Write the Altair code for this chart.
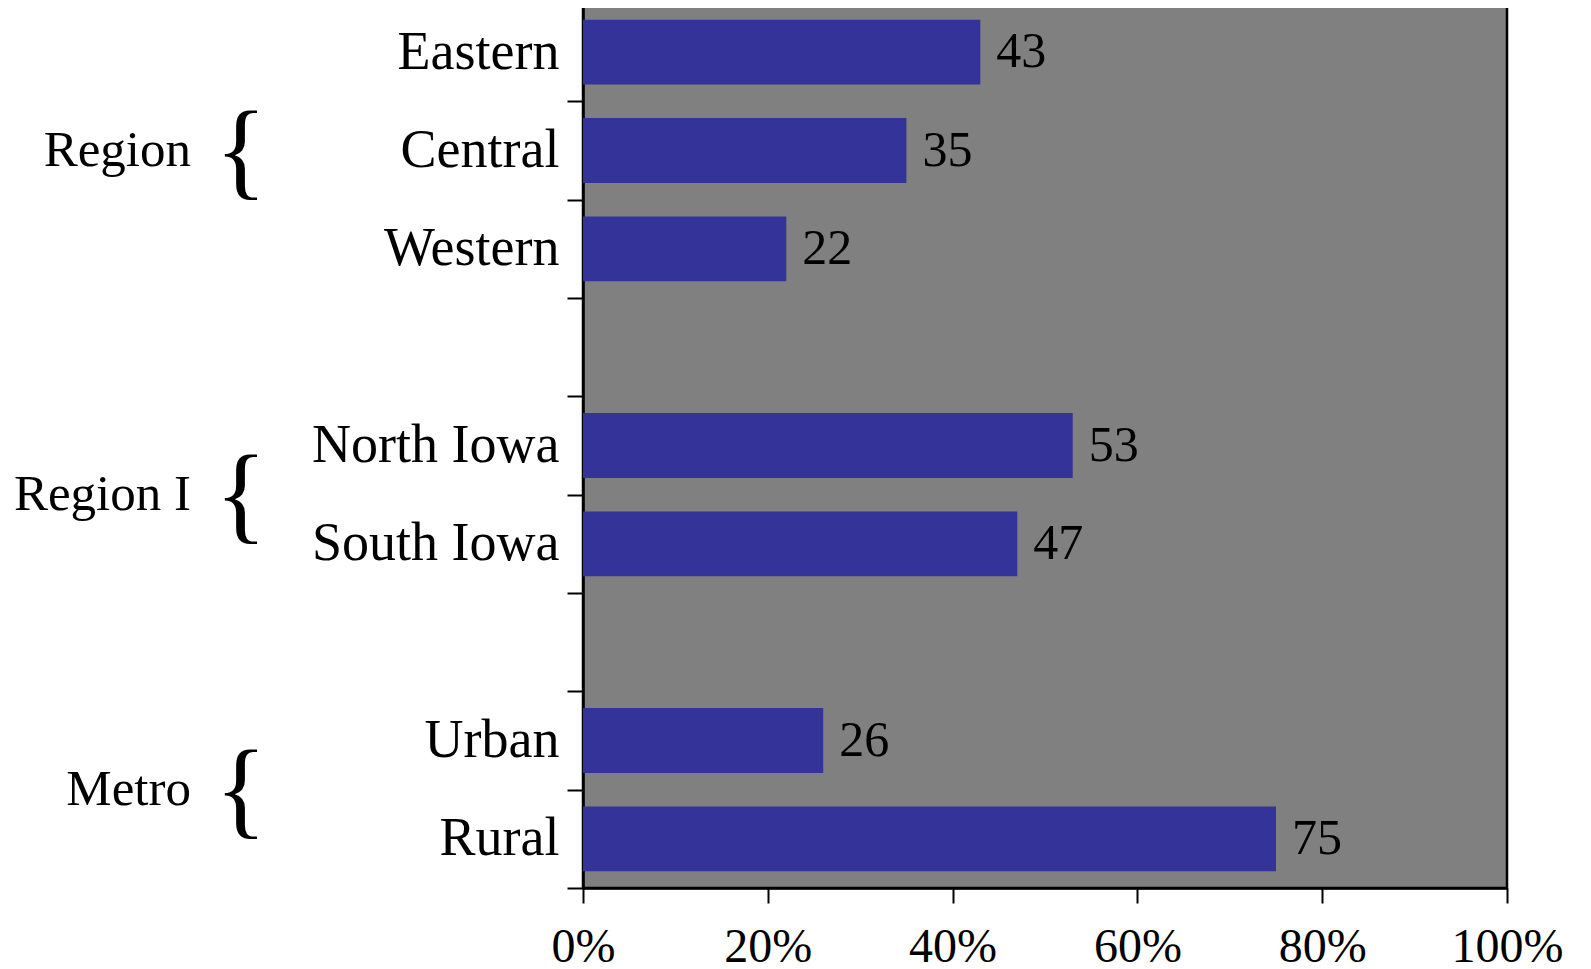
import altair as alt
import pandas as pd

# ---- data ----
categories = ["Eastern", "Central", "Western", "gap1", "North Iowa", "South Iowa",
              "gap2", "Urban", "Rural"]
bar_categories = ["Eastern", "Central", "Western", "North Iowa", "South Iowa", "Urban", "Rural"]
values = [43, 35, 22, 53, 47, 26, 75]
group_labels = ["Region", "Region I", "Metro"]
group_anchor = ["Central", "South Iowa", "Rural"]
group_band = [0.5, 0.0, 0.0]
x_ticks = [0, 20, 40, 60, 80, 100]

bars_df = pd.DataFrame({"category": bar_categories, "value": values})
groups_df = pd.DataFrame({"group": group_labels, "anchor": group_anchor,
                          "band": group_band, "brace": ["{"] * 3})

FONT = "Liberation Serif"
y_scale = alt.Scale(domain=categories, paddingInner=0, paddingOuter=0)

base = alt.Chart(bars_df)

bars = base.mark_bar(color="#333399", height={"band": 0.66}).encode(
    x=alt.X("value:Q", title=None, scale=alt.Scale(domain=[0, 100]),
            axis=alt.Axis(values=x_ticks, labelExpr="datum.value + '%'", grid=False,
                          labelFont=FONT, labelFontSize=48, labelColor="black",
                          labelFlush=False, labelPadding=20, tickSize=15,
                          tickColor="black", tickWidth=2, domainColor="black",
                          domainWidth=2.5)),
    y=alt.Y("category:N", title=None, scale=y_scale, sort=categories,
            axis=alt.Axis(tickBand="extent",
                          labelExpr="indexof(datum.label, 'gap') == 0 ? '' : datum.label",
                          labelFont=FONT, labelFontSize=54, labelColor="black",
                          labelLimit=500, labelPadding=8, tickSize=16,
                          tickColor="black", tickWidth=2, domainColor="black",
                          domainWidth=2.5)),
)

value_labels = base.mark_text(align="left", baseline="middle", dx=16, font=FONT,
                              fontSize=50, color="black").encode(
    x=alt.X("value:Q"),
    y=alt.Y("category:N", sort=categories),
    text=alt.Text("value:Q"),
)

gbase = alt.Chart(groups_df)


def group_layers(band):
    src = gbase.transform_filter(alt.datum.band == band)
    lab = src.mark_text(align="right", baseline="middle", font=FONT, fontSize=51,
                        color="black").encode(
        x=alt.value(-392),
        y=alt.Y("anchor:N", sort=categories, bandPosition=band),
        text="group:N",
    )
    br = src.mark_text(align="center", baseline="middle", font=FONT, fontSize=108,
                       dy=3, color="black").encode(
        x=alt.value(-342),
        y=alt.Y("anchor:N", sort=categories, bandPosition=band),
        text="brace:N",
    )
    return [lab, br]


chart = alt.layer(
    bars, value_labels, *group_layers(0.5), *group_layers(0.0)
).properties(
    width=924, height=885,
    padding={"left": 5, "top": -32, "right": 5, "bottom": 5},
).configure_view(
    fill="#808080", stroke="black", strokeWidth=2.5,
)

chart.save("out.html", embed_options={"renderer": "svg", "actions": False})
